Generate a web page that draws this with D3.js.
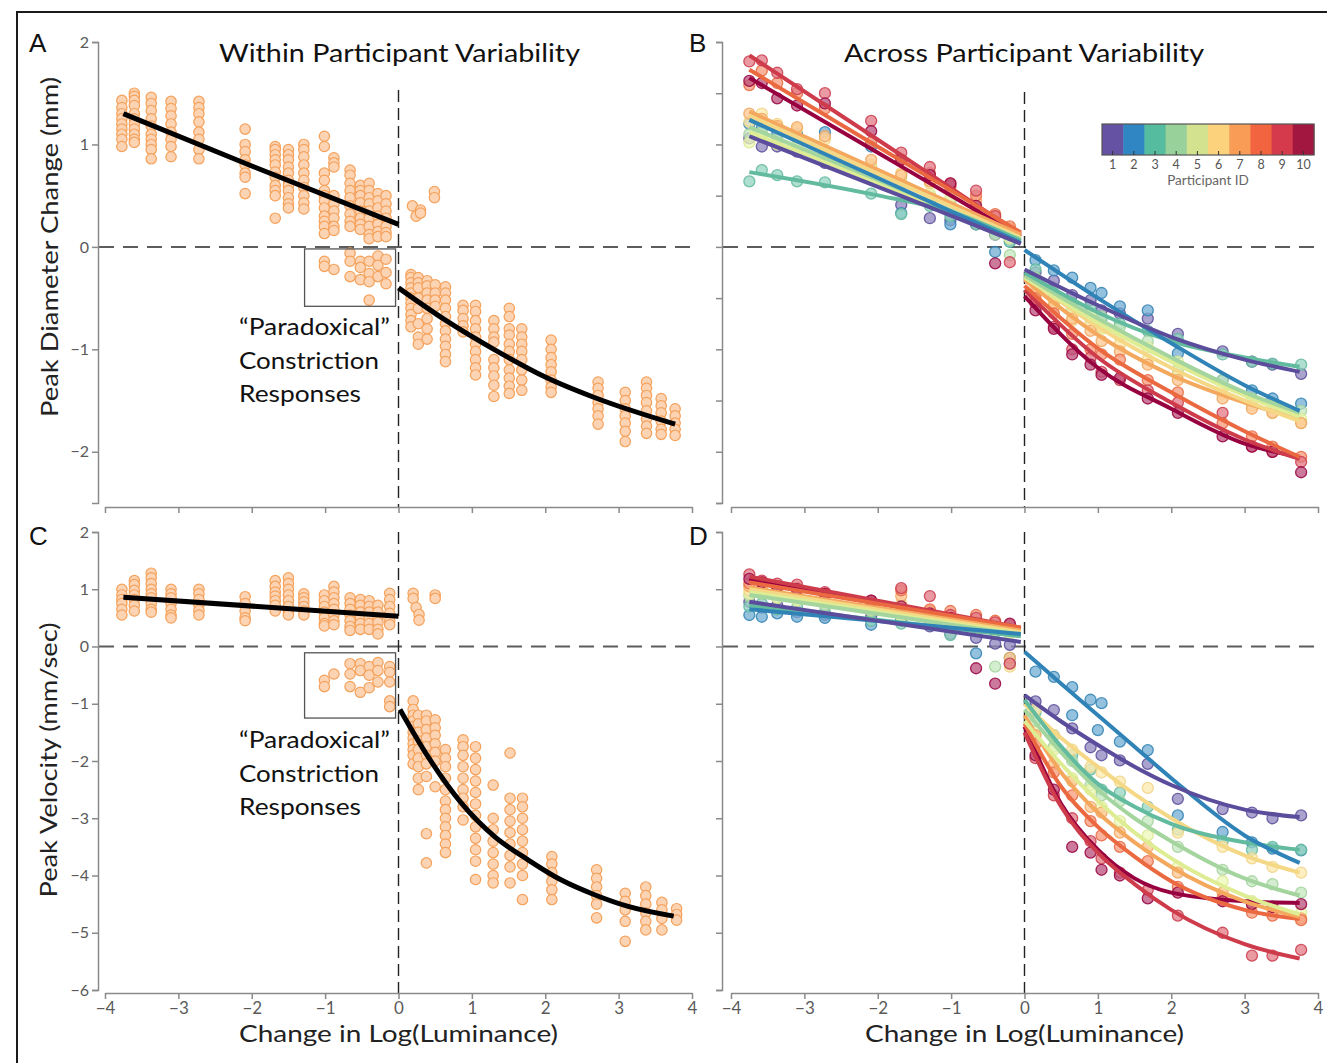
<!DOCTYPE html>
<html><head><meta charset="utf-8">
<script src="https://cdn.jsdelivr.net/npm/d3@7"></script>
<style>body{margin:0;background:#fff}svg{display:block}</style>
</head><body>
<script>
// ---------------- DATA ----------------
// Panel A (within participant, diameter): column x positions and y values
const aX = [-3.77,-3.6,-3.37,-3.1,-2.72,-2.09,-1.68,-1.5,-1.29,-1.01,-0.88,-0.66,-0.52,-0.4,-0.28,-0.17,
            0.19,0.24,0.3,0.49,
            0.17,0.27,0.39,0.5,0.64,0.88,1.05,1.3,1.51,1.68,2.08,2.72,3.09,3.38,3.58,3.77];
const aY = [
 [1.43,1.36,1.3,1.25,1.2,1.15,1.1,1.05,0.98],
 [1.5,1.47,1.43,1.38,1.3,1.25,1.2,1.15,1.1,1.05,1.02],
 [1.46,1.4,1.33,1.25,1.18,1.1,1.05,1.0,0.95,0.86],
 [1.42,1.35,1.28,1.2,1.12,1.05,0.98,0.88],
 [1.42,1.36,1.3,1.22,1.12,1.05,0.95,0.86],
 [1.15,1.0,0.93,0.85,0.8,0.72,0.68,0.52],
 [0.98,0.95,0.9,0.85,0.8,0.73,0.68,0.6,0.55,0.5,0.28],
 [0.95,0.9,0.85,0.78,0.72,0.65,0.6,0.55,0.48,0.42,0.38],
 [1.0,0.95,0.88,0.8,0.72,0.65,0.58,0.5,0.43,0.37],
 [1.08,0.98,0.72,0.65,0.55,0.5,0.45,0.38,0.3,0.25,0.2,0.13,-0.14,-0.19],
 [0.87,0.82,0.78,0.5,0.42,0.35,0.28,0.2,0.16,-0.22],
 [0.75,0.7,0.62,0.55,0.48,0.4,0.32,0.25,0.2,-0.06,-0.14,-0.29],
 [0.6,0.55,0.5,0.43,0.35,0.28,0.22,0.17,-0.14,-0.2,-0.32],
 [0.62,0.55,0.48,0.42,0.35,0.28,0.2,0.12,0.08,-0.14,-0.26,-0.34,-0.52],
 [0.52,0.45,0.38,0.3,0.22,0.15,0.1,-0.09,-0.18,-0.29],
 [0.5,0.42,0.35,0.28,0.2,0.14,0.1,-0.12,-0.25,-0.36],
 [0.4],[0.3],[0.36,0.33],[0.54,0.48],
 [-0.27,-0.3,-0.35,-0.4,-0.45,-0.5,-0.55,-0.6,-0.66,-0.72,-0.78],
 [-0.3,-0.35,-0.4,-0.5,-0.6,-0.75,-0.88,-0.95],
 [-0.33,-0.38,-0.45,-0.52,-0.6,-0.7,-0.8,-0.9],
 [-0.37,-0.45,-0.52,-0.58],
 [-0.39,-0.45,-0.52,-0.6,-0.68,-0.75,-0.82,-0.9,-0.97,-1.05,-1.12],
 [-0.57,-0.62,-0.7,-0.77,-0.83],
 [-0.57,-0.63,-0.72,-0.8,-0.88,-0.95,-1.02,-1.1,-1.18,-1.25],
 [-0.72,-0.8,-0.88,-0.93,-1.1,-1.18,-1.26,-1.35,-1.46],
 [-0.6,-0.68,-0.8,-0.86,-0.95,-1.02,-1.1,-1.2,-1.28,-1.36,-1.43],
 [-0.8,-0.88,-0.95,-1.02,-1.1,-1.2,-1.3,-1.4],
 [-0.91,-1.0,-1.08,-1.15,-1.22,-1.3,-1.37,-1.42],
 [-1.32,-1.38,-1.45,-1.52,-1.58,-1.65,-1.73],
 [-1.42,-1.5,-1.58,-1.65,-1.72,-1.8,-1.9],
 [-1.32,-1.38,-1.45,-1.52,-1.6,-1.68,-1.75,-1.82],
 [-1.48,-1.55,-1.62,-1.7,-1.78,-1.83],
 [-1.58,-1.65,-1.72,-1.78,-1.84]
];
const aFitLeft  = [[-3.75,1.30],[-2.0,0.79],[0,0.22]];
const aFitRight = [[0,-0.40],[0.65,-0.72],[1.3,-1.0],[2.0,-1.27],[2.67,-1.47],[3.77,-1.73]];

// Panel C (within participant, velocity)
const cX = [-3.77,-3.6,-3.37,-3.1,-2.72,-2.09,-1.68,-1.5,-1.29,-1.01,-0.88,-0.66,-0.52,-0.4,-0.28,-0.12,
            0.2,0.24,0.28,0.5,
            0.2,0.27,0.38,0.5,0.64,0.88,1.05,1.29,1.52,1.69,2.09,2.7,3.09,3.37,3.59,3.79];
const cY = [
 [1.0,0.9,0.82,0.75,0.65,0.55],
 [1.15,1.08,0.98,0.9,0.82,0.72,0.62],
 [1.28,1.2,1.1,1.0,0.92,0.85,0.75,0.65,0.6],
 [1.0,0.92,0.85,0.75,0.65,0.55,0.5],
 [1.0,0.92,0.82,0.72,0.63,0.55],
 [0.87,0.75,0.62,0.5,0.45],
 [1.15,1.05,0.95,0.88,0.8,0.72,0.62],
 [1.2,1.1,1.0,0.9,0.8,0.7,0.6,0.55],
 [0.92,0.85,0.78,0.7,0.62,0.55],
 [0.9,0.8,0.7,0.6,0.5,0.4,0.36,-0.59,-0.7],
 [1.05,0.95,0.85,0.75,0.65,0.55,0.45,0.38,-0.48],
 [0.85,0.75,0.65,0.55,0.45,0.35,0.28,-0.3,-0.48,-0.7],
 [0.82,0.72,0.6,0.5,0.4,0.3,-0.3,-0.42,-0.8],
 [0.8,0.7,0.6,0.5,0.4,0.3,-0.35,-0.5,-0.72],
 [0.72,0.6,0.5,0.42,0.3,0.22,-0.28,-0.42,-0.62],
 [0.93,0.82,0.7,0.58,0.45,0.38,-0.35,-0.45,-0.62,-0.95,-1.05],
 [0.93,0.84],[0.68],[0.56,0.46],[0.9,0.84],
 [-0.95,-1.1,-1.2,-1.3,-1.4,-1.5,-1.6,-1.7,-1.8,-1.9,-2.05],
 [-1.2,-1.35,-1.5,-1.65,-1.8,-1.95,-2.1,-2.3,-2.5],
 [-1.2,-1.3,-1.45,-1.6,-1.75,-1.9,-2.05,-2.27,-3.27,-3.78],
 [-1.28,-1.42,-1.55,-1.7,-1.85,-2.0,-2.45],
 [-1.8,-1.95,-2.1,-2.3,-2.5,-2.7,-2.85,-3.0,-3.15,-3.3,-3.45,-3.6],
 [-1.63,-1.75,-1.9,-2.1,-2.3,-2.5,-2.65,-2.8,-3.03],
 [-1.75,-1.95,-2.15,-2.35,-2.55,-2.75,-2.95,-3.15,-3.35,-3.55,-3.75,-4.07],
 [-2.42,-3.0,-3.2,-3.4,-3.6,-3.8,-4.0,-4.13],
 [-1.86,-2.65,-2.85,-3.05,-3.25,-3.45,-3.65,-3.85,-4.13],
 [-2.65,-2.8,-3.0,-3.2,-3.4,-3.6,-3.8,-4.0,-4.42],
 [-3.67,-3.8,-3.95,-4.1,-4.25,-4.42],
 [-3.9,-4.05,-4.2,-4.35,-4.5,-4.74],
 [-4.31,-4.45,-4.6,-4.8,-5.15],
 [-4.2,-4.35,-4.5,-4.65,-4.8,-4.95],
 [-4.47,-4.6,-4.75,-4.95],
 [-4.58,-4.68,-4.78]
];
const cFitLeft  = [[-3.75,0.86],[0,0.53]];
const cFitRight = [[0.02,-1.1],[0.4,-1.92],[0.86,-2.74],[1.31,-3.32],[1.77,-3.73],[2.22,-4.08],[2.68,-4.34],[3.13,-4.54],[3.75,-4.71]];

// Participants (B, D)
const participantIds = [1,2,3,4,5,6,7,8,9,10];
const participantColors = ["#5e4fa2","#3288bd","#66c2a5","#abdda4","#e6f598","#fee08b","#fdae61","#f46d43","#d53e4f","#9e0142"];
const legendColors = ["#6652a3","#2f86c2","#55bca0","#99d19b","#d3e28f","#fdd27d","#f99c55","#f26340","#d5394c","#a1173f"];

const leftX  = [-3.75,-3.58,-3.37,-3.1,-2.72,-2.09,-1.68,-1.29,-1.01,-0.66,-0.4,-0.2];
const rightX = [0.15,0.4,0.65,0.9,1.05,1.3,1.68,2.09,2.7,3.1,3.38,3.77];

const bLeftY = [
 [1.06,0.98,0.98,0.93,0.82,0.68,0.41,0.28,0.26,0.22,0.12,0.08],
 [1.20,1.16,1.10,1.10,1.12,0.98,0.33,0.45,0.22,0.30,-0.05,0.05],
 [0.64,0.75,0.70,0.64,0.63,0.52,0.32,0.40,0.30,0.22,0.15,0.05],
 [1.10,1.12,1.05,1.06,0.92,0.78,0.62,0.50,0.45,0.28,0.12,-0.08],
 [1.02,1.08,1.00,0.98,0.95,0.72,0.66,0.52,0.48,0.35,0.18,0.08],
 [1.22,1.30,1.20,1.15,1.05,0.80,0.72,0.62,0.55,0.38,0.25,0.12],
 [1.30,1.25,1.18,1.17,1.08,0.85,0.70,0.64,0.58,0.45,0.30,0.18],
 [1.58,1.72,1.60,1.50,1.35,1.02,0.85,0.72,0.62,0.50,0.32,0.20],
 [1.81,1.82,1.70,1.54,1.50,1.23,0.92,0.78,0.60,0.55,0.30,-0.15],
 [1.62,1.60,1.45,1.38,1.40,1.13,0.85,0.70,0.62,0.40,-0.16,0.15]
];
const bRightY = [
 [-0.25,-0.33,-0.47,-0.52,-0.62,-0.65,-0.70,-0.85,-1.02,-1.12,-1.15,-1.24],
 [-0.13,-0.23,-0.30,-0.40,-0.45,-0.58,-0.62,-1.04,-1.30,-1.40,-1.48,-1.53],
 [-0.22,-0.45,-0.55,-0.58,-0.70,-0.75,-0.82,-0.90,-1.05,-1.12,-1.14,-1.15],
 [-0.30,-0.48,-0.60,-0.70,-0.68,-0.78,-0.92,-1.20,-1.30,-1.48,-1.55,-1.60],
 [-0.35,-0.52,-0.62,-0.66,-0.80,-0.88,-0.98,-1.12,-1.38,-1.50,-1.58,-1.68],
 [-0.40,-0.55,-0.72,-0.75,-0.78,-0.95,-1.10,-1.25,-1.44,-1.55,-1.62,-1.72],
 [-0.45,-0.58,-0.70,-0.82,-0.92,-1.02,-1.15,-1.30,-1.48,-1.58,-1.62,-1.72],
 [-0.50,-0.65,-0.85,-1.00,-1.05,-1.10,-1.30,-1.42,-1.72,-1.85,-1.95,-2.05],
 [-0.55,-0.78,-1.00,-1.08,-1.22,-1.30,-1.40,-1.52,-1.62,-1.95,-2.00,-2.10],
 [-0.62,-0.80,-1.05,-1.15,-1.25,-1.28,-1.48,-1.62,-1.85,-1.95,-2.00,-2.20]
];
const bFitLeftX = [-3.75,-2.05,-0.95,-0.05];
const bFitLeft = [
 [1.08,0.60,0.29,0.03],[1.24,0.69,0.33,0.04],[0.73,0.51,0.33,0.06],[1.17,0.67,0.34,0.07],
 [1.12,0.64,0.33,0.08],[1.28,0.73,0.38,0.09],[1.32,0.77,0.41,0.12],[1.73,1.00,0.53,0.14],
 [1.87,1.07,0.55,0.12],[1.65,0.94,0.48,0.10]
];
const bFitRightX = [0,1,2,3,3.75];
const bFitRight = [
 [-0.22,-0.57,-0.88,-1.10,-1.22],[-0.03,-0.50,-0.94,-1.35,-1.60],[-0.25,-0.64,-0.92,-1.08,-1.17],
 [-0.28,-0.70,-1.08,-1.42,-1.62],[-0.30,-0.74,-1.12,-1.45,-1.66],[-0.28,-0.78,-1.18,-1.50,-1.70],
 [-0.32,-0.86,-1.25,-1.52,-1.68],[-0.38,-0.99,-1.42,-1.80,-2.05],[-0.42,-1.08,-1.52,-1.88,-2.07],
 [-0.48,-1.18,-1.58,-1.92,-2.05]
];

const dLeftY = [
 [0.78,0.68,0.72,0.60,0.55,0.52,0.45,0.35,0.22,0.15,0.05,0.03],
 [0.55,0.52,0.58,0.52,0.50,0.38,0.48,0.45,0.40,-0.12,0.30,-0.30],
 [0.70,0.75,0.65,0.68,0.60,0.45,0.40,0.38,0.20,0.30,0.25,-0.20],
 [0.88,0.92,0.85,0.90,0.72,0.62,0.55,0.40,0.35,0.30,-0.35,0.25],
 [0.92,0.95,0.85,0.80,0.78,0.65,0.52,0.42,0.38,0.30,0.28,0.22],
 [0.98,1.02,0.95,0.88,0.80,0.72,0.75,0.55,0.48,0.40,0.35,-0.35],
 [1.05,1.00,0.98,0.92,0.85,0.72,0.88,0.62,0.50,0.42,0.38,-0.20],
 [1.10,1.12,1.05,1.02,0.92,0.78,0.98,0.65,0.62,0.55,0.45,0.38],
 [1.26,1.15,1.10,1.08,0.95,0.80,1.02,0.88,0.55,0.50,0.42,-0.30],
 [1.18,1.12,1.05,1.00,0.92,0.80,0.70,0.58,0.50,-0.38,-0.65,0.40]
];
const dRightY = [
 [-0.96,-1.11,-1.43,-1.76,-1.90,-1.99,-2.05,-2.66,-2.84,-2.90,-3.00,-2.95],
 [-0.44,-0.53,-0.71,-0.93,-0.99,-1.66,-1.81,-2.95,-3.24,-3.42,-3.53,-3.56],
 [-1.15,-1.55,-1.90,-2.15,-2.50,-2.55,-2.80,-3.20,-3.40,-3.55,-3.50,-3.55],
 [-1.30,-1.75,-2.00,-2.42,-2.60,-2.70,-3.05,-3.50,-3.90,-4.10,-4.15,-4.30],
 [-1.50,-1.80,-2.30,-2.50,-2.80,-3.05,-3.30,-3.85,-4.10,-4.45,-4.55,-4.65],
 [-1.10,-1.55,-1.80,-2.10,-2.20,-2.36,-2.47,-3.25,-3.50,-3.70,-3.85,-3.95],
 [-1.55,-2.05,-2.35,-2.80,-2.90,-3.25,-3.50,-3.95,-4.30,-4.50,-4.60,-4.75],
 [-1.70,-2.20,-2.60,-3.05,-3.30,-3.50,-3.75,-4.20,-4.40,-4.65,-4.70,-4.78],
 [-1.95,-2.60,-3.00,-3.40,-3.70,-3.95,-4.25,-4.70,-5.00,-5.40,-5.40,-5.30],
 [-1.90,-2.50,-3.50,-3.60,-3.90,-4.00,-4.40,-4.30,-4.45,-4.50,-4.55,-4.50]
];
const dExtra = [[2,0.65,-1.2],[2,1.0,-1.46]];
const dFitLeftX = [-3.75,-0.05];
const dFitLeft = [[0.78,0.08],[0.65,0.22],[0.72,0.18],[0.90,0.20],[0.95,0.22],[1.00,0.25],[1.03,0.28],[1.12,0.33],[1.22,0.33],[1.18,0.30]];
const dFitRightX = [0,0.5,1,1.5,2,3,3.75];
const dFitRight = [
 [-0.85,-1.31,-1.72,-2.10,-2.42,-2.85,-2.98],
 [-0.09,-0.65,-1.20,-1.75,-2.30,-3.30,-3.78],
 [-0.93,-1.75,-2.40,-2.80,-3.10,-3.42,-3.55],
 [-1.10,-1.85,-2.50,-3.00,-3.40,-4.05,-4.35],
 [-1.30,-2.05,-2.70,-3.25,-3.70,-4.35,-4.68],
 [-1.00,-1.60,-2.10,-2.58,-3.00,-3.65,-3.95],
 [-1.20,-2.20,-2.90,-3.42,-3.85,-4.45,-4.72],
 [-1.35,-2.45,-3.15,-3.67,-4.10,-4.60,-4.76],
 [-1.50,-2.80,-3.60,-4.15,-4.60,-5.20,-5.45],
 [-1.40,-2.75,-3.55,-4.05,-4.30,-4.45,-4.48]
];

const xTicks = [-4,-3,-2,-1,0,1,2,3,4];
const yTicksTop = [2,1,0,-1,-2];
const yTicksTopMinor = [2,1.5,1,0.5,0,-0.5,-1,-1.5,-2,-2.5];
const yTicksBot = [2,1,0,-1,-2,-3,-4,-5,-6];

// ---------------- LAYOUT ----------------
const W = 1327, H = 1063;
const FONT = "Lato, 'Open Sans', sans-serif";
const svg = d3.select("body").append("svg").attr("width", W).attr("height", H);

// figure frame
svg.append("path").attr("d", `M17,${H+5}V12H${W+5}`).attr("fill","none").attr("stroke","#1a1a1a").attr("stroke-width",2);

const xL = d3.scaleLinear().domain([-4,4]).range([105,692]);
const xR = d3.scaleLinear().domain([-4,4]).range([731,1318]);
const yTop = d3.scaleLinear().domain([2,-2.5]).range([42,503]);
const yBot = d3.scaleLinear().domain([2,-6]).range([532,990]);
const fmt = d => d < 0 ? "\u2212" + Math.abs(d) : String(d);
const AX = "#8a8a8a";

function styleAxis(g){
  g.attr("font-family", FONT).attr("font-size", 16);
  g.select(".domain").attr("stroke", AX).attr("stroke-width", 1.5);
  g.selectAll(".tick line").attr("stroke", AX).attr("stroke-width", 1.5);
  g.selectAll(".tick text").attr("fill", "#5a5a5a");
}
function yAxis(xpos, y, ticks, labels){
  const g = svg.append("g").attr("transform", `translate(${xpos},0)`)
    .call(d3.axisLeft(y).tickValues(ticks).tickSize(6).tickSizeOuter(6).tickPadding(3).tickFormat(labels ? fmt : ""));
  styleAxis(g);
}
function xAxis(x, ypos, labels){
  const g = svg.append("g").attr("transform", `translate(0,${ypos})`)
    .call(d3.axisBottom(x).tickValues(xTicks).tickSize(6).tickSizeOuter(0).tickPadding(3).tickFormat(labels ? fmt : ""));
  styleAxis(g);
  g.selectAll(".tick text").attr("font-size", 17);
}
function refLines(x, y, axisX, vTop, vBottom){
  svg.append("line").attr("x1", axisX+1).attr("x2", x(4.04)).attr("y1", y(0)).attr("y2", y(0))
    .attr("stroke", "#5c5c5c").attr("stroke-width", 2).attr("stroke-dasharray", "15,9");
  svg.append("line").attr("x1", x(0)).attr("x2", x(0)).attr("y1", vTop).attr("y2", vBottom)
    .attr("stroke", "#222").attr("stroke-width", 1.4).attr("stroke-dasharray", "12,6");
}
function orangeDots(xs, yss, x, y){
  const pts = xs.flatMap((xv, i) => yss[i].map(v => [xv, v]));
  svg.append("g").selectAll("circle").data(pts).join("circle")
    .attr("cx", d => x(d[0])).attr("cy", d => y(d[1])).attr("r", 5.2)
    .attr("fill", "#fcd3b3").attr("stroke", "#f5a15a").attr("stroke-width", 1.2);
}
function fitLine(pts, x, y, color, w){
  svg.append("path").datum(pts)
    .attr("d", d3.line().x(d => x(d[0])).y(d => y(d[1])).curve(d3.curveMonotoneX))
    .attr("fill", "none").attr("stroke", color).attr("stroke-width", w).attr("stroke-linecap","butt");
}
function participantDots(leftY, rightY, extra, x, y){
  const pts = [];
  participantIds.forEach((id, p) => {
    leftX.forEach((xv, i) => { if (leftY[p][i] != null) pts.push([xv, leftY[p][i], p]); });
    rightX.forEach((xv, i) => { if (rightY[p][i] != null) pts.push([xv, rightY[p][i], p]); });
  });
  extra.forEach(e => pts.push([e[1], e[2], e[0]-1]));
  svg.append("g").selectAll("circle").data(pts).join("circle")
    .attr("cx", d => x(d[0])).attr("cy", d => y(d[1])).attr("r", 5.5)
    .attr("fill", d => d3.interpolateRgb(participantColors[d[2]], "#ffffff")(0.3))
    .attr("fill-opacity", 0.75)
    .attr("stroke", d => d3.color(participantColors[d[2]]).darker(0.15))
    .attr("stroke-width", 1.3).attr("stroke-opacity", 0.85);
}
function participantLines(fl, flx, fr, frx, x, y){
  for (let p = participantIds.length - 1; p >= 0; p--){
    const c = d3.color(participantColors[p]).darker(0.1);
    fitLine(flx.map((xv,i)=>[xv, fl[p][i]]), x, y, c, 4);
    fitLine(frx.map((xv,i)=>[xv, fr[p][i]]), x, y, c, 4);
  }
}
function txt(x, y, s, size, opts = {}){
  const t = svg.append("text").attr("x", x).attr("y", y).text(s)
    .attr("font-family", opts.family || FONT).attr("font-size", size)
    .attr("fill", opts.fill || "#111").attr("text-anchor", opts.anchor || "start");
  if (opts.len) t.attr("textLength", opts.len).attr("lengthAdjust", "spacingAndGlyphs");
  if (opts.rotate) t.attr("transform", `rotate(-90,${x},${y})`);
  return t;
}

// ---------------- PANEL A ----------------
refLines(xL, yTop, 98, 90, 507);
orangeDots(aX, aY, xL, yTop);
fitLine(aFitLeft, xL, yTop, "#000", 5);
fitLine(aFitRight, xL, yTop, "#000", 5);
svg.append("rect").attr("x", xL(-1.28)).attr("y", yTop(-0.02)).attr("width", xL(-0.04)-xL(-1.28)).attr("height", yTop(-0.58)-yTop(-0.02))
  .attr("fill","none").attr("stroke","#555").attr("stroke-width",1.3);
yAxis(98, yTop, yTicksTop, true);
xAxis(xL, 507, false);

// ---------------- PANEL B ----------------
refLines(xR, yTop, 722, 92, 507);
participantDots(bLeftY, bRightY, [], xR, yTop);
participantLines(bFitLeft, bFitLeftX, bFitRight, bFitRightX, xR, yTop);
yAxis(722, yTop, yTicksTopMinor, false);
xAxis(xR, 507, false);

// legend colorbar
const lx = d3.scaleBand().domain(participantIds).range([1102, 1314]);
const lg = svg.append("g");
lg.selectAll("rect").data(participantIds).join("rect")
  .attr("x", d => lx(d)).attr("y", 124).attr("width", lx.bandwidth()+0.5).attr("height", 31)
  .attr("fill", (d,i) => legendColors[i]);
lg.append("rect").attr("x", 1102).attr("y", 124).attr("width", 212).attr("height", 31)
  .attr("fill","none").attr("stroke","#555").attr("stroke-width",1.2);
lg.selectAll("line").data(participantIds).join("line")
  .attr("x1", d => lx(d)+lx.bandwidth()/2).attr("x2", d => lx(d)+lx.bandwidth()/2)
  .attr("y1", 155).attr("y2", 151).attr("stroke","#333").attr("stroke-width",1);
lg.selectAll("text").data(participantIds).join("text")
  .attr("x", d => lx(d)+lx.bandwidth()/2).attr("y", 169).attr("text-anchor","middle")
  .attr("font-family", FONT).attr("font-size", 12.5).attr("fill","#555").text(d => d);
txt(1208, 185, "Participant ID", 13.5, {anchor:"middle", fill:"#666"});

// ---------------- PANEL C ----------------
refLines(xL, yBot, 98, 532, 993);
orangeDots(cX, cY, xL, yBot);
fitLine(cFitLeft, xL, yBot, "#000", 5);
fitLine(cFitRight, xL, yBot, "#000", 5);
svg.append("rect").attr("x", xL(-1.28)).attr("y", yBot(-0.11)).attr("width", xL(-0.04)-xL(-1.28)).attr("height", yBot(-1.25)-yBot(-0.11))
  .attr("fill","none").attr("stroke","#555").attr("stroke-width",1.3);
yAxis(98, yBot, yTicksBot, true);
xAxis(xL, 993, true);

// ---------------- PANEL D ----------------
refLines(xR, yBot, 722, 532, 993);
participantDots(dLeftY, dRightY, dExtra, xR, yBot);
participantLines(dFitLeft, dFitLeftX, dFitRight, dFitRightX, xR, yBot);
yAxis(722, yBot, yTicksBot, false);
xAxis(xR, 993, true);

// ---------------- TEXT ----------------
txt(399.5, 62, "Within Participant Variability", 25, {anchor:"middle", len:361});
txt(1024, 62, "Across Participant Variability", 25, {anchor:"middle", len:360});
const AR = "'Liberation Sans', Arial, sans-serif";
txt(29, 52, "A", 26, {family:AR});
txt(689, 52, "B", 26, {family:AR});
txt(29, 545, "C", 26, {family:AR});
txt(689, 545, "D", 26, {family:AR});
txt(58, 247, "Peak Diameter Change (mm)", 23, {anchor:"middle", rotate:true, len:340, fill:"#222"});
txt(57, 760, "Peak Velocity (mm/sec)", 23, {anchor:"middle", rotate:true, len:275, fill:"#222"});
txt(398.5, 1042, "Change in Log(Luminance)", 24, {anchor:"middle", len:319, fill:"#222"});
txt(1024.5, 1042, "Change in Log(Luminance)", 24, {anchor:"middle", len:319, fill:"#222"});
const annot = ["\u201CParadoxical\u201D", "Constriction", "Responses"];
const annotLen = [151, 140, 122];
annot.forEach((s,i) => txt(239, 335 + i*33.5, s, 23, {len: annotLen[i]}));
annot.forEach((s,i) => txt(239, 748 + i*33.5, s, 23, {len: annotLen[i]}));
</script>
</body></html>
